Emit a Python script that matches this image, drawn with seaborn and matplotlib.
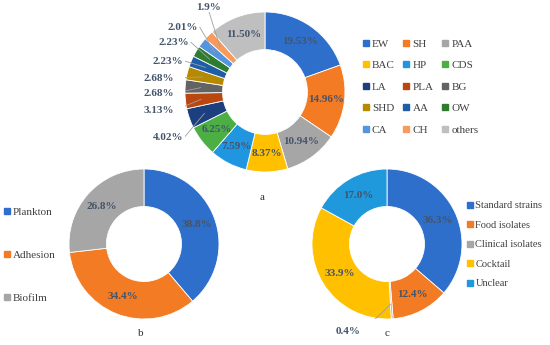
import matplotlib
matplotlib.use("Agg")
import matplotlib.pyplot as plt
from matplotlib.lines import Line2D
import numpy as np
import seaborn as sns

sns.set_theme(style="white")
plt.rcParams['font.family'] = ['Liberation Serif', 'DejaVu Serif']

W, H = 550, 345

# panel a
a_names = ["EW", "SH", "PAA", "BAC", "HP", "CDS", "LA", "PLA", "BG",
           "SHD", "AA", "OW", "CA", "CH", "others"]
a_pct = ["19.53", "14.96", "10.94", "8.37", "7.59", "6.25", "4.02", "3.13",
         "2.68", "2.68", "2.23", "2.23", "2.01", "1.9", "11.50"]
a_colors = ["#2E6FCC", "#F37B24", "#A6A6A6", "#FFC000", "#2196E0", "#4CAF43",
            "#1B3F7F", "#BA4710", "#636363", "#B68A00", "#1E5EA8", "#2E7D2E",
            "#5595E0", "#F79A5C", "#BFBFBF"]

# panel b
b_names = ["Plankton", "Adhesion", "Biofilm"]
b_pct = ["38.8", "34.4", "26.8"]
b_colors = ["#2E6FCC", "#F37B24", "#A6A6A6"]

# panel c
c_names = ["Standard strains", "Food isolates", "Clinical isolates", "Cocktail", "Unclear"]
c_pct = ["36.3", "12.4", "0.4", "33.9", "17.0"]
c_colors = ["#2E6FCC", "#F37B24", "#A6A6A6", "#FFC000", "#1F98DC"]

LABEL_COLOR = "#44546A"
LEGEND_COLOR = "#404040"


def fig_xy(x, y):
    return x / W, 1 - y / H


def donut(fig, cx, cy, r, values, colors, width):
    ax = fig.add_axes([(cx - r) / W, 1 - (cy + r) / H, 2 * r / W, 2 * r / H])
    wedges, _ = ax.pie(values, colors=colors, startangle=90, counterclock=False,
                       radius=1, wedgeprops=dict(width=width, edgecolor="white", linewidth=0.6))
    ax.set_xlim(-1, 1)
    ax.set_ylim(-1, 1)
    ax.set_axis_off()
    return ax, wedges


def mid_point(w, rad):
    ang = np.deg2rad((w.theta1 + w.theta2) / 2)
    return rad * np.cos(ang), rad * np.sin(ang)


def inner_labels(ax, wedges, texts, width, skip=()):
    for i, (w, t) in enumerate(zip(wedges, texts)):
        if i in skip:
            continue
        x, y = mid_point(w, 1 - width / 2)
        ax.text(x, y, t + "%", ha="center", va="center", fontsize=8,
                fontweight="bold", color=LABEL_COLOR)


def outer_label(ax, cx, cy, r, w, text, px, py, ha="right"):
    tx, ty = (px - cx) / r, (cy - py) / r
    ax.text(tx, ty, text + "%", ha=ha, va="center", fontsize=8,
            fontweight="bold", color=LABEL_COLOR)
    ex, ey = mid_point(w, 0.8)
    sx = tx + 0.02 if ha == "right" else tx
    sy = ty if ha == "right" else ty - 0.06
    ax.plot([sx, ex], [sy, ey], color="#A0A0A0", lw=0.6, solid_capstyle="butt")


fig = plt.figure(figsize=(W / 100, H / 100), dpi=100)

# ---- a ----
acx, acy, ar, aw = 265, 92, 80, 0.47
ax_a, wa = donut(fig, acx, acy, ar, [float(v) for v in a_pct], a_colors, aw)
inner_labels(ax_a, wa, a_pct, aw, skip=range(6, 14))
outer_pos = {6: (183, 137), 7: (174, 110), 8: (174, 93), 9: (174, 78),
             10: (183, 61), 11: (189, 42), 12: (198, 27)}
for i, (px, py) in outer_pos.items():
    outer_label(ax_a, acx, acy, ar, wa[i], a_pct[i], px, py)
outer_label(ax_a, acx, acy, ar, wa[13], a_pct[13], 209, 7, ha="center")

handles_a = [Line2D([], [], marker="s", linestyle="none", markersize=4,
                    markerfacecolor=c, markeredgecolor=c) for c in a_colors]
order = [i for col in range(3) for i in range(col, len(a_names), 3)]
fig.legend([handles_a[i] for i in order], [a_names[i] for i in order], ncol=3,
           loc="upper left", bbox_to_anchor=fig_xy(363, 39), frameon=False,
           fontsize=8, handlelength=0.5, handletextpad=0.3, columnspacing=0.8,
           labelspacing=1.05, borderpad=0, borderaxespad=0, labelcolor=LEGEND_COLOR)
fig.text(*fig_xy(262, 198), "a", ha="center", va="center", fontsize=8, color="#303030")

# ---- b ----
bcx, bcy, br, bw = 144, 244, 75, 0.5
ax_b, wb = donut(fig, bcx, bcy, br, [float(v) for v in b_pct], b_colors, bw)
inner_labels(ax_b, wb, b_pct, bw)
handles_b = [Line2D([], [], marker="s", linestyle="none", markersize=4,
                    markerfacecolor=c, markeredgecolor=c) for c in b_colors]
fig.legend(handles_b, b_names, loc="upper left", bbox_to_anchor=fig_xy(4, 207),
           frameon=False, fontsize=8, handlelength=0.5, handletextpad=0.3,
           labelspacing=3.0, borderpad=0, borderaxespad=0, labelcolor=LEGEND_COLOR)
fig.text(*fig_xy(141, 334), "b", ha="center", va="center", fontsize=8, color="#303030")

# ---- c ----
ccx, ccy, cr, cw = 387, 244, 75, 0.5
ax_c, wc = donut(fig, ccx, ccy, cr, [float(v) for v in c_pct], c_colors, cw)
inner_labels(ax_c, wc, c_pct, cw, skip=(2,))
outer_label(ax_c, ccx, ccy, cr, wc[2], c_pct[2], 361, 331)
handles_c = [Line2D([], [], marker="s", linestyle="none", markersize=4,
                    markerfacecolor=c, markeredgecolor=c) for c in c_colors]
fig.legend(handles_c, c_names, loc="upper left", bbox_to_anchor=fig_xy(467, 201),
           frameon=False, fontsize=7.5, handlelength=0.5, handletextpad=0.3,
           labelspacing=0.98, borderpad=0, borderaxespad=0, labelcolor=LEGEND_COLOR)
fig.text(*fig_xy(387, 334), "c", ha="center", va="center", fontsize=8, color="#303030")

fig.savefig("out.png", dpi=100)
